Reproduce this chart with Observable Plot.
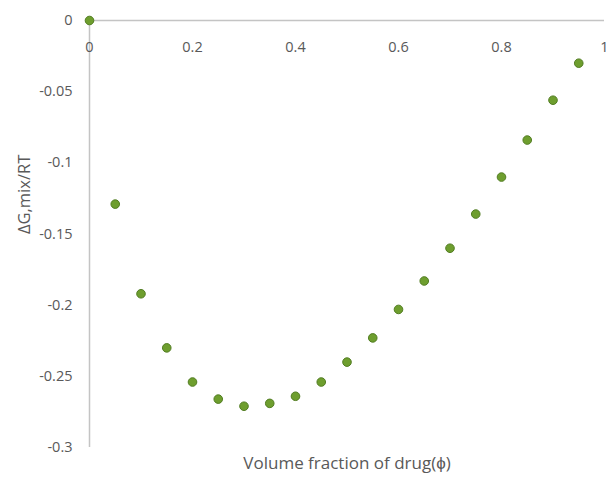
<!DOCTYPE html>
<html>
<head>
<meta charset="utf-8">
<script src="https://cdn.jsdelivr.net/npm/d3@7"></script>
<script src="https://cdn.jsdelivr.net/npm/@observablehq/plot@0.6"></script>
<style>
  html, body { margin: 0; padding: 0; background: #fff; }
  #chart svg { display: block; }
</style>
</head>
<body>
<div id="chart"></div>
<script>
const phi = [0, 0.05, 0.1, 0.15, 0.2, 0.25, 0.3, 0.35, 0.4, 0.45, 0.5, 0.55, 0.6, 0.65, 0.7, 0.75, 0.8, 0.85, 0.9, 0.95];
const dG = [0, -0.129, -0.192, -0.230, -0.254, -0.266, -0.271, -0.269, -0.264, -0.254, -0.240, -0.223, -0.203, -0.183, -0.160, -0.136, -0.110, -0.084, -0.056, -0.030];
const xTicks = [0, 0.2, 0.4, 0.6, 0.8, 1];
const yTicks = [0, -0.05, -0.1, -0.15, -0.2, -0.25, -0.3];
const xLabel = "Volume fraction of drug(ϕ)";
const yLabel = "ΔG,mix/RT";

const data = phi.map((p, i) => ({phi: p, dG: dG[i]}));
const fmt = d => d === 0 ? "0" : String(+d.toFixed(2));

const chart = Plot.plot({
  width: 611,
  height: 478,
  marginTop: 20,
  marginLeft: 89,
  marginRight: 7,
  marginBottom: 31,
  style: {fontFamily: "'Open Sans', sans-serif", fontSize: "14px", color: "#595959"},
  x: {domain: [0, 1]},
  y: {domain: [-0.3, 0]},
  marks: [
    Plot.ruleX([0], {stroke: "#c4c4c4", strokeWidth: 1.5}),
    Plot.ruleY([0], {stroke: "#c4c4c4", strokeWidth: 1.5}),
    Plot.axisX({anchor: "top", ticks: xTicks, tickFormat: fmt, tickSize: 0, dy: 40, label: null, fill: "#595959", fontSize: 14.5}),
    Plot.axisY({anchor: "left", ticks: yTicks, tickFormat: fmt, tickSize: 0, tickPadding: 17, label: null, fill: "#595959", fontSize: 14.5}),
    Plot.text([yLabel], {frameAnchor: "left", dx: -65, rotate: -90, fill: "#595959", fontSize: 16.5}),
    Plot.text([xLabel], {frameAnchor: "bottom", dy: 21, fill: "#595959", fontSize: 17}),
    Plot.dot(data, {x: "phi", y: "dG", r: 4.3, fill: "#6e9e2e", stroke: "#527d22", strokeWidth: 1})
  ]
});
document.getElementById("chart").appendChild(chart);
</script>
</body>
</html>
